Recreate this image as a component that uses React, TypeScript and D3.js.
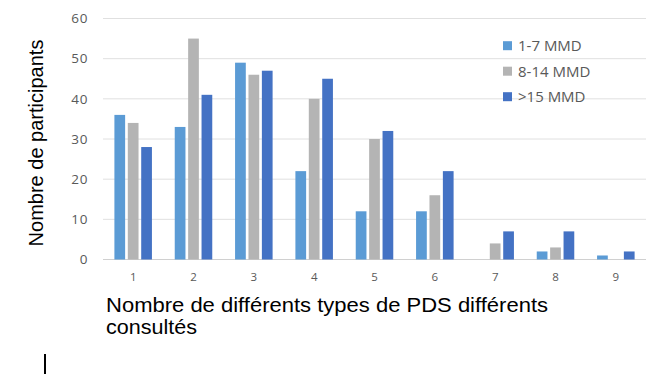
import React from "react";
import * as d3 from "d3";

const categories = ["1", "2", "3", "4", "5", "6", "7", "8", "9"];
const seriesNames = ["1-7 MMD", "8-14 MMD", ">15 MMD"];
const s1 = [36, 33, 49, 22, 12, 12, 0, 2, 1];
const s2 = [34, 55, 46, 40, 30, 16, 4, 3, 0];
const s3 = [28, 41, 47, 45, 32, 22, 7, 7, 2];
const yTicks = [0, 10, 20, 30, 40, 50, 60];
const colors = ["#5b9bd5", "#b4b4b4", "#4472c4"];

export default function App() {
  const W = 664, H = 374;
  const left = 103, right = 646, top = 18.5, bottom = 259.5;
  const series = [s1, s2, s3];
  const x = d3.scaleBand<string>().domain(categories).range([left, right]).paddingInner(0.378).paddingOuter(0.189);
  const xs = d3.scaleBand<string>().domain(seriesNames).range([0, x.bandwidth()]).paddingInner(0.2);
  const y = d3.scaleLinear().domain([0, 60]).range([bottom, top]);
  const gray = "#595959";
  return (
    <svg width={W} height={H} style={{ position: "absolute", left: 0, top: 0, background: "#fff" }}>
      {yTicks.map((t) => (
        <g key={t}>
          <line x1={left} x2={right} y1={y(t)} y2={y(t)} stroke={t === 0 ? "#d0d0d0" : "#e0e0e0"} strokeWidth={1} />
          <text x={88} y={y(t)} dy="0.35em" textAnchor="end" fontFamily="Open Sans" fontSize={13.5} fill={gray} letterSpacing={0.6}>{t}</text>
        </g>
      ))}
      {categories.map((c, i) => (
        <g key={c}>
          {series.map((s, j) => (
            <rect key={j} x={(x(c) as number) + (xs(seriesNames[j]) as number)} y={y(s[i])} width={xs.bandwidth()} height={bottom - y(s[i])} fill={colors[j]} />
          ))}
          <text x={(x(c) as number) + x.bandwidth() / 2} y={277} dy="0.35em" textAnchor="middle" fontFamily="Open Sans" fontSize={11.5} fill={gray}>{c}</text>
        </g>
      ))}
      {seriesNames.map((n, j) => (
        <g key={n} transform={`translate(503, ${45.7 + j * 25.5})`}>
          <rect x={0} y={-4.5} width={9} height={9} fill={colors[j]} />
          <text x={15} y={0} dy="0.36em" fontFamily="Open Sans" fontSize={15} fill={gray}>{n}</text>
        </g>
      ))}
      <text transform="translate(43, 143) rotate(-90)" textAnchor="middle" fontFamily="Liberation Sans, Arial" fontSize={20} fill="#000">Nombre de participants</text>
      <text x={106} y={311.5} fontFamily="Liberation Sans, Arial" fontSize={20} fill="#000" textLength={442} lengthAdjust="spacingAndGlyphs">Nombre de différents types de PDS différents</text>
      <text x={106} y={333.5} fontFamily="Liberation Sans, Arial" fontSize={20} fill="#000" textLength={91} lengthAdjust="spacingAndGlyphs">consultés</text>
      <line x1={45} x2={45} y1={354} y2={374} stroke="#000" strokeWidth={2} />
    </svg>
  );
}
